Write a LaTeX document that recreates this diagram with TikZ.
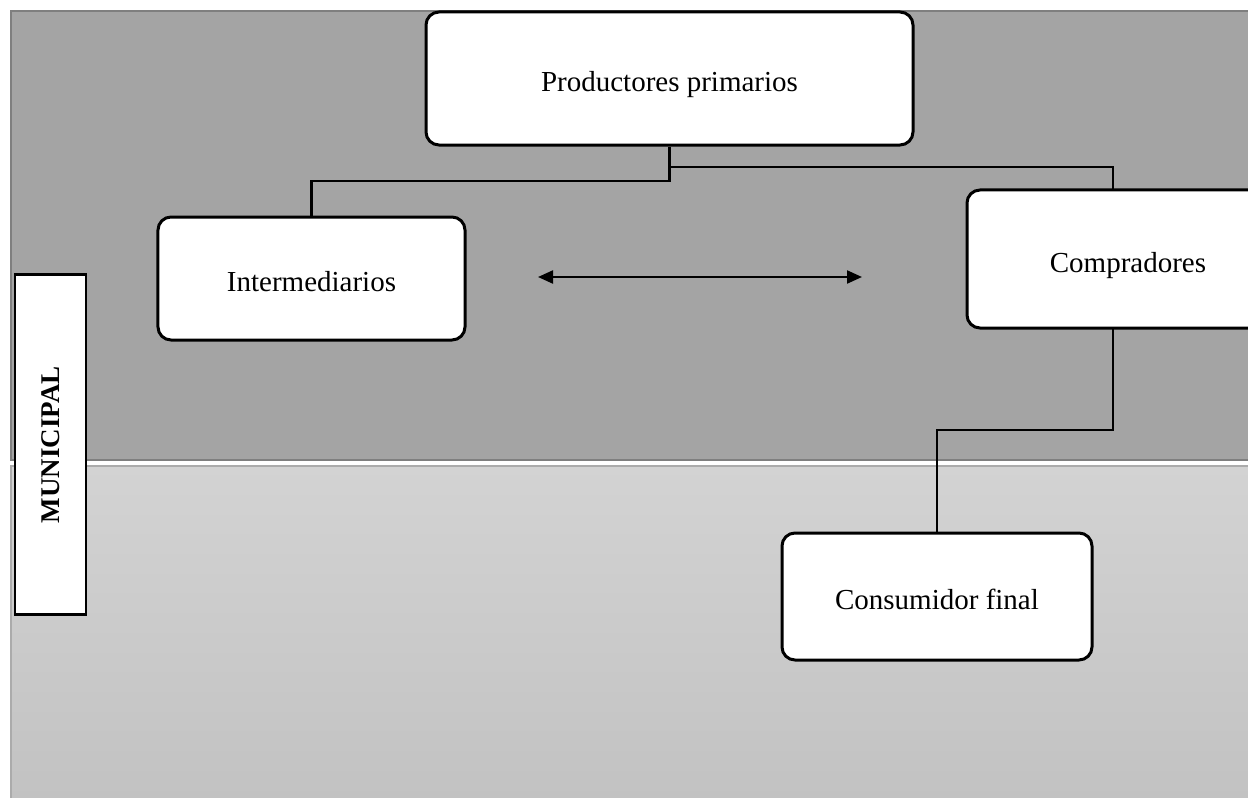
\documentclass[tikz,border=0pt]{standalone}
\usepackage{fontspec}
\setmainfont{Liberation Serif}
\usetikzlibrary{arrows.meta}
\definecolor{darkbg}{HTML}{A4A4A4}
\definecolor{darkedge}{HTML}{7F7F7F}
\definecolor{lighttop}{HTML}{D3D3D3}
\definecolor{lightbot}{HTML}{C2C2C2}
\definecolor{lightedge}{HTML}{ABABAB}
\tikzset{
  x=1bp, y=-1bp,
  actor/.style={draw=black, line width=3bp, fill=white, rounded corners=13bp,
    inner sep=0pt, font=\fontsize{29bp}{34bp}\selectfont, text height=26bp, text depth=0bp},
  munibox/.style={draw=black, line width=2.5bp, fill=white, inner sep=0pt},
  link/.style={draw=black, line width=2.2bp},
  twoway/.style={draw=black, line width=2.2bp, {Triangle[length=15bp,width=13bp]}-{Triangle[length=15bp,width=13bp]}}
}
\begin{document}
\begin{tikzpicture}
\useasboundingbox (0,0) rectangle (1248,798);
\clip (0,0) rectangle (1248,798);
% backgrounds
\fill[white] (0,0) rectangle (1248,798);
\fill[darkbg] (10,10) rectangle (1250,461);
\draw[darkedge, line width=2.5bp] (11,461) -- (11,11) -- (1250,11);
\draw[darkedge, line width=2.5bp] (10,460) -- (1250,460);
\shade[top color=lighttop, bottom color=lightbot] (10,465) rectangle (1250,800);
\draw[lightedge, line width=2bp] (11,800) -- (11,466) -- (1250,466);
% nodes
\node[actor, minimum width=487bp, minimum height=133bp] (P) at (669.5,78.5) {Productores primarios};
\node[actor, minimum width=307bp, minimum height=123bp] (I) at (311.5,278.5) {Intermediarios};
\node[actor, minimum width=322bp, minimum height=138bp] (C) at (1128,259) {Compradores};
\node[actor, minimum width=310bp, minimum height=127bp] (F) at (937,596.5) {Consumidor final};
\node[munibox, minimum width=71bp, minimum height=340bp] (M) at (50.5,444.5)
  {\rotatebox{90}{\fontsize{27bp}{32bp}\selectfont\bfseries MUNICIPAL}};
% junction coordinates
\coordinate (j1) at (669.5,181);
\coordinate (j2) at (669.5,167);
\coordinate (ctop) at (1113,190);
\coordinate (cbot) at (1113,328);
\coordinate (k1) at (1113,430);
\coordinate (k2) at (937,430);
\coordinate (a1) at (538,277);
\coordinate (a2) at (862,277);
% connectors
\draw[link] (P.south) -- (j1) -| (I.north);
\draw[link] (j2) -| (ctop);
\draw[link] (cbot) -- (k1) -- (k2) -- (F.north);
\draw[twoway] (a1) -- (a2);
\end{tikzpicture}
\end{document}
